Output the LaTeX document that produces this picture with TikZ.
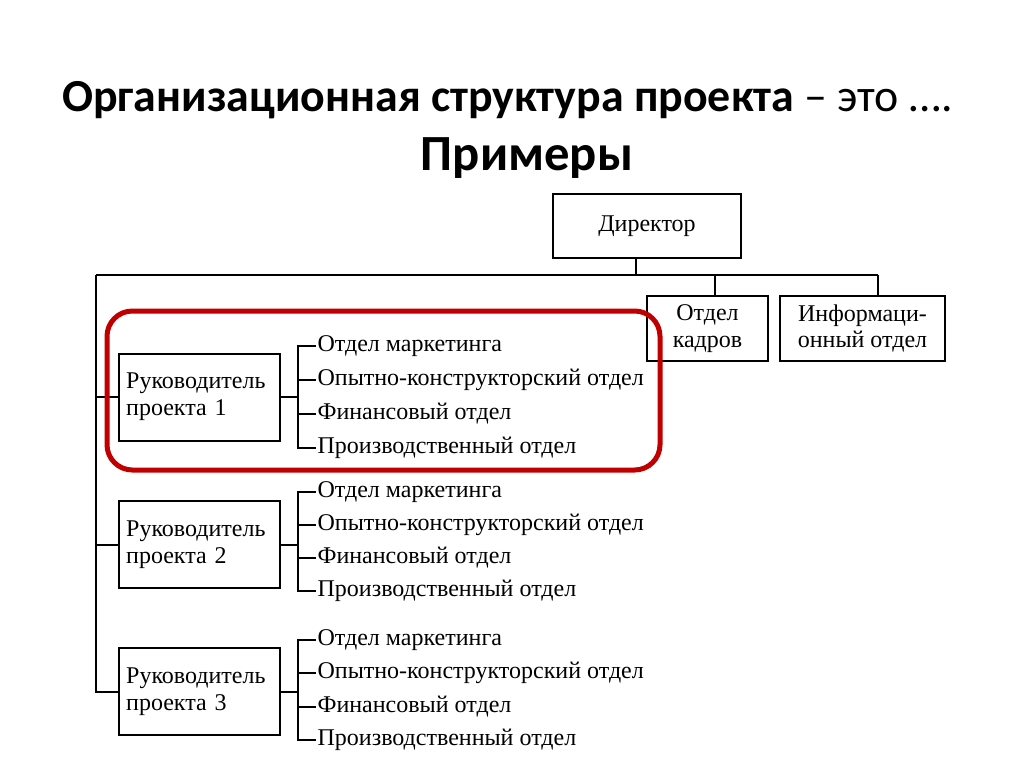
\documentclass[tikz,border=0pt]{standalone}
\usepackage{fontspec}
\setmainfont{Liberation Serif}
\newfontfamily\headfont{Carlito}
\definecolor{framered}{RGB}{192,0,0}
\tikzset{
  head/.style={inner sep=0pt, font=\headfont\fontsize{34.4}{40}\selectfont},
  unit/.style={draw, line width=1.5pt, inner sep=0pt, align=center,
    font=\fontsize{18}{20}\selectfont},
  lead/.style={unit, align=left, text width=110pt, inner xsep=5.25pt,
    minimum height=65.25pt},
  item/.style={anchor=west, inner xsep=1pt, inner ysep=0pt, text height=8.5pt,
    text depth=0pt, font=\fontsize{18}{20}\selectfont},
  link/.style={line width=1.5pt},
  frame/.style={draw=framered, line width=3.75pt, rounded corners=19pt}
}
\begin{document}
\begin{tikzpicture}[x=0.75pt, y=-0.75pt]
    \def\yb{275};
    \def\xt{96};
    \def\xi{316};
    \def\dk{18};

    \useasboundingbox (0,0) rectangle (1024,767);

% title
    \node[head, anchor=base west] (title) at (62,112)
        {\textbf{Организационная структура проекта} – это ….};
    \node[head, anchor=base, font=\headfont\fontsize{38}{44}\selectfont] (sub) at (527,170)
        {\textbf{Примеры}};

% top level
    \node[unit, minimum width=141pt, minimum height=48pt] (dir) at (647,226) {Директор};
    \node[unit, minimum width=90.75pt, minimum height=48.75pt] (hr) at (707.5,328.5)
        {Отдел\\кадров};
    \node[unit, minimum width=123.75pt, minimum height=48.75pt] (info) at (862.5,328.5)
        {Информаци-\\онный отдел};

    \coordinate (busL) at (\xt, \yb);
    \coordinate (busR) at (878, \yb);
    \path (dir.south) ++(-11,0) coordinate (dirS);
    \path (hr.north) ++(7,0) coordinate (hrN);

    \draw[link] (busL) -- (busR);
    \draw[link] (dirS) -- (dirS |- busL);
    \draw[link] (hrN |- busL) -- (hrN);
    \draw[link] (busR) -- (busR |- info.north);

% project managers
    \node[lead] (p1) at (199.5,397) {Руководитель\\проекта 1};
    \node[lead] (p2) at (199.5,544.5) {Руководитель\\проекта 2};
    \node[lead] (p3) at (199.5,691.5) {Руководитель\\проекта 3};

    \draw[link] (busL) |- (p3.west);
    \draw[link] (busL |- p1.west) -- (p1.west);
    \draw[link] (busL |- p2.west) -- (p2.west);

% departments of project 1
    \node[item] (p1a) at (\xi, 346) {Отдел маркетинга};
    \node[item] (p1b) at (\xi, 380) {Опытно-конструкторский отдел};
    \node[item] (p1c) at (\xi, 414) {Финансовый отдел};
    \node[item] (p1d) at (\xi, 448) {Производственный отдел};

    \draw[link] (p1.east) -- ++(17,0);
    \draw[link] (p1a.west) -- ++(-\dk,0) |- (p1d.west);
    \draw[link] (p1b.west) -- ++(-\dk,0);
    \draw[link] (p1c.west) -- ++(-\dk,0);

% departments of project 2
    \node[item] (p2a) at (\xi, 492) {Отдел маркетинга};
    \node[item] (p2b) at (\xi, 525) {Опытно-конструкторский отдел};
    \node[item] (p2c) at (\xi, 558) {Финансовый отдел};
    \node[item] (p2d) at (\xi, 591) {Производственный отдел};

    \draw[link] (p2.east) -- ++(17,0);
    \draw[link] (p2a.west) -- ++(-\dk,0) |- (p2d.west);
    \draw[link] (p2b.west) -- ++(-\dk,0);
    \draw[link] (p2c.west) -- ++(-\dk,0);

% departments of project 3
    \node[item] (p3a) at (\xi, 640) {Отдел маркетинга};
    \node[item] (p3b) at (\xi, 673) {Опытно-конструкторский отдел};
    \node[item] (p3c) at (\xi, 707) {Финансовый отдел};
    \node[item] (p3d) at (\xi, 740) {Производственный отдел};

    \draw[link] (p3.east) -- ++(17,0);
    \draw[link] (p3a.west) -- ++(-\dk,0) |- (p3d.west);
    \draw[link] (p3b.west) -- ++(-\dk,0);
    \draw[link] (p3c.west) -- ++(-\dk,0);

% highlighted project
    \draw[frame] (107,311) rectangle (660,470);

\end{tikzpicture}
\end{document}
